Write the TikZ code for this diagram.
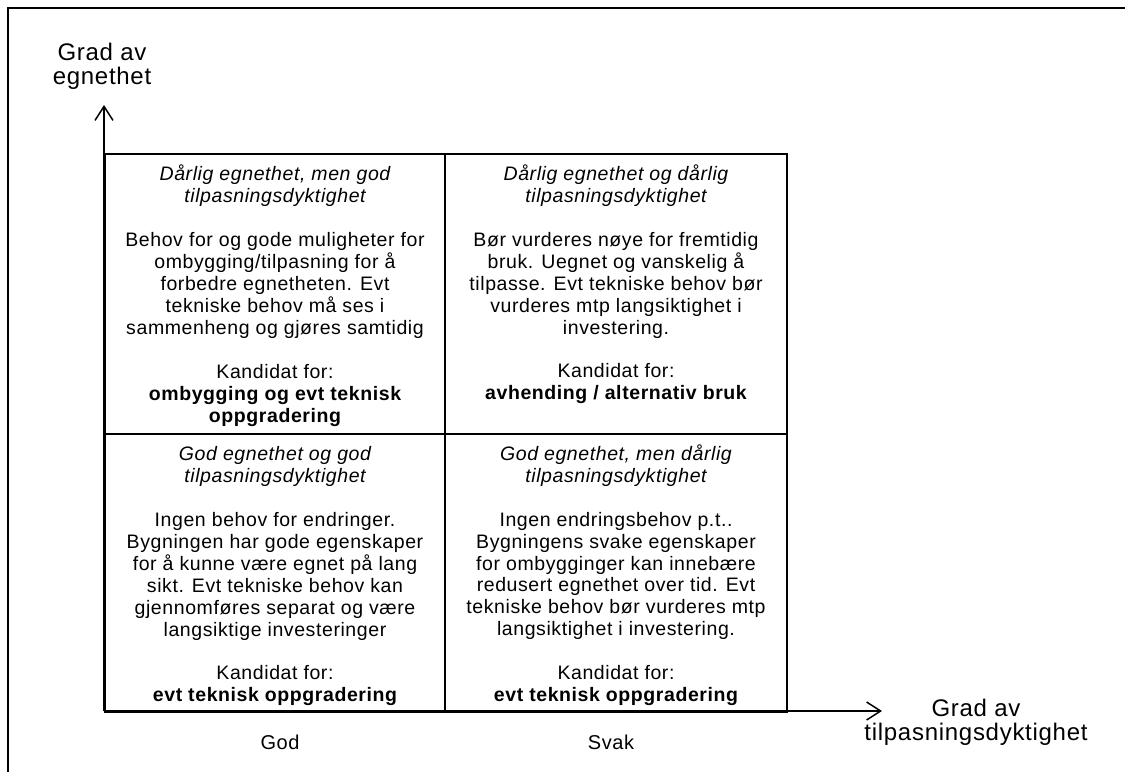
\documentclass[tikz,border=0pt]{standalone}
\usepackage{fontspec}
\setmainfont{Liberation Sans}[LetterSpace=3]
\usetikzlibrary{arrows.meta}

% one centred block of lines, baseline on its first line
\newcommand\lines[1]{\begin{tabular}[t]{@{}c@{}}#1\end{tabular}}

\tikzset{
  quad/.style={draw, line width=2pt, inner sep=0pt, anchor=north west},
  celltext/.style={anchor=base, inner sep=0pt, font=\fontsize{19.5}{21.9}\selectfont},
  axislabel/.style={anchor=base, inner sep=0pt, font=\fontsize{24}{23.5}\selectfont},
  ticklabel/.style={anchor=base, inner sep=0pt, font=\fontsize{20}{22}\selectfont},
  axis/.style={line width=1.5pt, -{Straight Barb[length=14pt, width=18pt, line width=1.5pt]}},
}

\begin{document}
\begin{tikzpicture}[x=1pt, y=-1pt]
  \useasboundingbox (0,0) rectangle (1125,772);

  % outer frame (top and left edges)
  \draw[line width=2.5pt] (1125,8) -- (8,8) -- (8,772);

  % axes
  \coordinate (origin) at (104,711);
  \coordinate (ytip) at (104,105);
  \coordinate (xtip) at (882,711);
  \draw[axis] (origin) -- (ytip);
  \draw[axis] (origin) -- (xtip);

  % the four quadrants
  \node[quad, minimum width=340pt, minimum height=280pt] (tl) at (104,153) {};
  \node[quad, minimum width=342pt, minimum height=280pt] (tr) at (444,153) {};
  \node[quad, minimum width=340pt, minimum height=278pt] (bl) at (104,433) {};
  \node[quad, minimum width=342pt, minimum height=278pt] (br) at (444,433) {};

  \node[celltext] (tltext) at ([yshift=-27.5pt]tl.north) {\lines{
    \itshape Dårlig egnethet, men god\\
    \itshape tilpasningsdyktighet\\
    \\
    Behov for og gode muligheter for\\
    ombygging/tilpasning for å\\
    forbedre egnetheten. Evt\\
    tekniske behov må ses i\\
    sammenheng og gjøres samtidig\\
    \\
    Kandidat for:\\
    \bfseries ombygging og evt teknisk\\
    \bfseries oppgradering}};

  \node[celltext] (trtext) at ([yshift=-27.5pt]tr.north) {\lines{
    \itshape Dårlig egnethet og dårlig\\
    \itshape tilpasningsdyktighet\\
    \\
    Bør vurderes nøye for fremtidig\\
    bruk. Uegnet og vanskelig å\\
    tilpasse. Evt tekniske behov bør\\
    vurderes mtp langsiktighet i\\
    investering.\\
    \\
    Kandidat for:\\
    \bfseries avhending / alternativ bruk}};

  \node[celltext] (bltext) at ([yshift=-27.5pt]bl.north) {\lines{
    \itshape God egnethet og god\\
    \itshape tilpasningsdyktighet\\
    \\
    Ingen behov for endringer.\\
    Bygningen har gode egenskaper\\
    for å kunne være egnet på lang\\
    sikt. Evt tekniske behov kan\\
    gjennomføres separat og være\\
    langsiktige investeringer\\
    \\
    Kandidat for:\\
    \bfseries evt teknisk oppgradering}};

  \node[celltext] (brtext) at ([yshift=-27.5pt]br.north) {\lines{
    \itshape God egnethet, men dårlig\\
    \itshape tilpasningsdyktighet\\
    \\
    Ingen endringsbehov p.t..\\
    Bygningens svake egenskaper\\
    for ombygginger kan innebære\\
    redusert egnethet over tid. Evt\\
    tekniske behov bør vurderes mtp\\
    langsiktighet i investering.\\
    \\
    Kandidat for:\\
    \bfseries evt teknisk oppgradering}};

  % axis titles and column labels
  \node[axislabel] (ylabel) at (102,60) {\lines{Grad av\\egnethet}};
  \node[axislabel] (xlabel) at (976,716) {\lines{Grad av\\tilpasningsdyktighet}};
  \node[ticklabel] (god) at (280,749) {God};
  \node[ticklabel] (svak) at (611,749) {Svak};
\end{tikzpicture}
\end{document}
